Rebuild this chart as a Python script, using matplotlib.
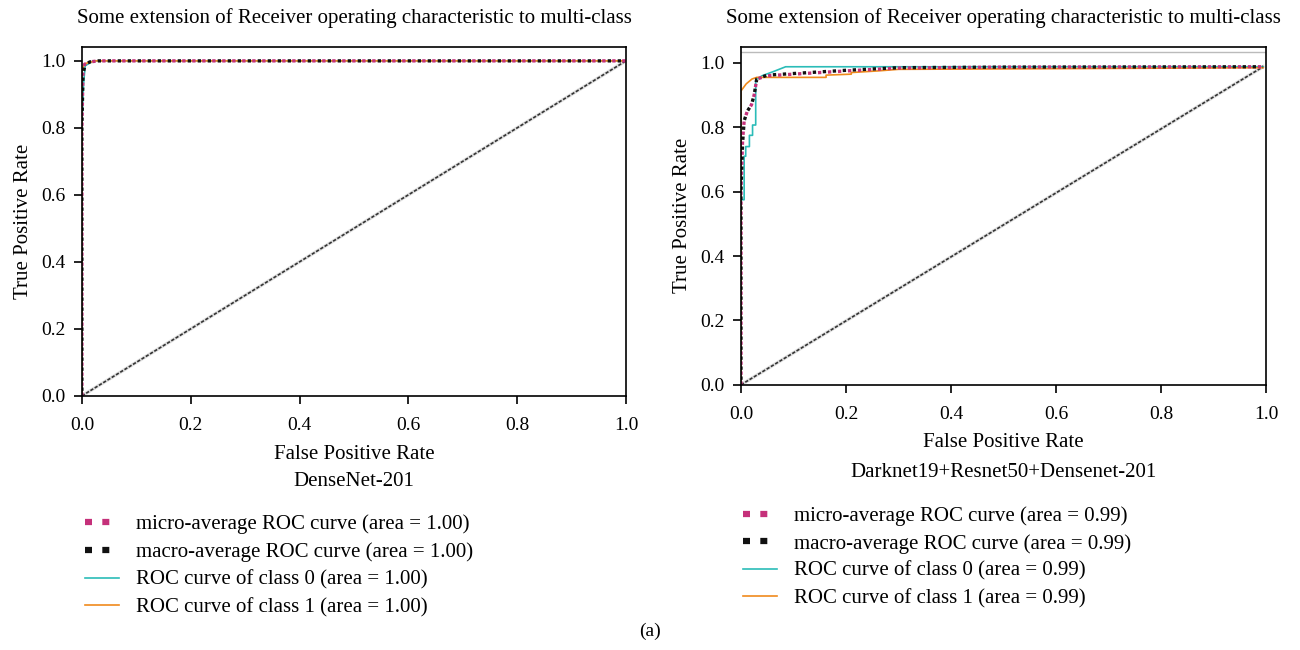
import matplotlib

matplotlib.use('Agg')
import matplotlib.pyplot as plt
from matplotlib.lines import Line2D

plt.rcParams['font.family'] = ['Liberation Serif', 'DejaVu Serif']

TITLE = "Some extension of Receiver operating characteristic to multi-class"

# DenseNet-201 (left panel)
l_micro_fpr = [0.0, 0.0, 0.002, 0.005, 0.015, 0.03, 1.0]
l_micro_tpr = [0.0, 0.80, 0.97, 0.99, 0.997, 1.0, 1.0]
l_macro_fpr = [0.0, 0.0, 0.002, 0.006, 0.015, 0.03, 1.0]
l_macro_tpr = [0.0, 0.80, 0.96, 0.99, 0.997, 1.0, 1.0]
l_c0_fpr = [0.0, 0.0, 0.003, 0.006, 0.02, 1.0]
l_c0_tpr = [0.0, 0.81, 0.93, 0.985, 1.0, 1.0]
l_c1_fpr = [0.0, 0.0, 0.004, 0.012, 0.025, 1.0]
l_c1_tpr = [0.0, 0.97, 0.99, 0.995, 1.0, 1.0]

# Darknet19+Resnet50+Densenet-201 (right panel)
r_micro_fpr = [0.0, 0.0, 0.003, 0.006, 0.012, 0.02, 0.025, 0.03, 0.05, 0.1, 0.15, 0.2, 0.3, 0.5, 0.994]
r_micro_tpr = [0.0, 0.60, 0.76, 0.82, 0.85, 0.87, 0.90, 0.95, 0.96, 0.965, 0.97, 0.975, 0.984, 0.987, 0.988]
r_macro_fpr = [0.0, 0.0, 0.003, 0.006, 0.012, 0.02, 0.025, 0.03, 0.05, 0.1, 0.15, 0.2, 0.3, 0.5, 0.994]
r_macro_tpr = [0.0, 0.60, 0.75, 0.82, 0.85, 0.87, 0.90, 0.95, 0.962, 0.967, 0.972, 0.977, 0.985, 0.987, 0.988]
r_c0_fpr = [0.0, 0.0, 0.006, 0.006, 0.009, 0.009, 0.016, 0.016, 0.022, 0.022, 0.028, 0.028, 0.04, 0.06, 0.085, 0.994]
r_c0_tpr = [0.0, 0.575, 0.575, 0.71, 0.71, 0.74, 0.74, 0.775, 0.775, 0.807, 0.807, 0.947, 0.96, 0.972, 0.988, 0.988]
r_c1_fpr = [0.0, 0.0, 0.01, 0.021, 0.03, 0.1, 0.162, 0.162, 0.21, 0.21, 0.26, 0.3, 0.994]
r_c1_tpr = [0.0, 0.913, 0.935, 0.95, 0.955, 0.955, 0.955, 0.962, 0.965, 0.97, 0.975, 0.98, 0.985]
r_diag_fpr = [0.0, 0.994]
r_diag_tpr = [0.0, 0.988]

l_areas = ["1.00", "1.00", "1.00", "1.00"]
r_areas = ["0.99", "0.99", "0.99", "0.99"]

MICRO = '#c5307a'
MACRO = '#111111'
C0 = '#2bbcb8'
C1 = '#f08a1c'
FS = 15
TFS = 14


def draw_panel(ax, curves, diag):
    (mi_x, mi_y), (ma_x, ma_y), (c0_x, c0_y), (c1_x, c1_y) = curves
    ax.plot(diag[0], diag[1], color='#cccccc', lw=2.5, alpha=0.6)
    ax.plot(diag[0], diag[1], color='#333333', lw=1.2, linestyle=(0, (2, 1)))
    ax.plot(c0_x, c0_y, color=C0, lw=1.2)
    ax.plot(c1_x, c1_y, color=C1, lw=1.2)
    ax.plot(mi_x, mi_y, color=MICRO, lw=2.4, linestyle=(0, (1, 2)))
    ax.plot(ma_x, ma_y, color=MACRO, lw=2.4, linestyle=(1.5, (1, 2)))
    ax.set_xticks([0.0, 0.2, 0.4, 0.6, 0.8, 1.0])
    ax.set_yticks([0.0, 0.2, 0.4, 0.6, 0.8, 1.0])
    ax.tick_params(labelsize=TFS, direction='out', length=6, width=1.2)
    ax.tick_params(axis='x', pad=9)
    ax.tick_params(axis='y', pad=6)
    for s in ax.spines.values():
        s.set_linewidth(1.2)
    ax.set_ylabel('True Positive Rate', fontsize=FS, labelpad=6)


def add_legend(fig, x, y, areas, spacing):
    handles = [
        Line2D([], [], color=MICRO, lw=4.5, linestyle=(0, (1.12, 1.65))),
        Line2D([], [], color=MACRO, lw=4.5, linestyle=(0, (1.12, 1.65))),
        Line2D([], [], color=C0, lw=1.2),
        Line2D([], [], color=C1, lw=1.2),
    ]
    labels = [
        f'micro-average ROC curve (area = {areas[0]})',
        f'macro-average ROC curve (area = {areas[1]})',
        f'ROC curve of class 0 (area = {areas[2]})',
        f'ROC curve of class 1 (area = {areas[3]})',
    ]
    fig.legend(handles, labels, loc='upper left', bbox_to_anchor=(x, y),
               frameon=False, fontsize=FS, handlelength=1.63, handletextpad=0.8,
               labelspacing=spacing, borderpad=0, borderaxespad=0)


fig = plt.figure(figsize=(13, 6.5), dpi=100)
ax1 = fig.add_axes([0.063, 0.391, 0.4185, 0.537])
ax2 = fig.add_axes([0.570, 0.408, 0.404, 0.520])

draw_panel(ax1, [(l_micro_fpr, l_micro_tpr), (l_macro_fpr, l_macro_tpr),
                 (l_c0_fpr, l_c0_tpr), (l_c1_fpr, l_c1_tpr)],
           ([0.0, 1.0], [0.0, 1.0]))
ax1.set_xlim(0.0, 1.0)
ax1.set_ylim(0.0, 1.042)

draw_panel(ax2, [(r_micro_fpr, r_micro_tpr), (r_macro_fpr, r_macro_tpr),
                 (r_c0_fpr, r_c0_tpr), (r_c1_fpr, r_c1_tpr)],
           (r_diag_fpr, r_diag_tpr))
ax2.set_xlim(0.0, 1.0)
ax2.set_ylim(0.0, 1.05)
ax2.axhline(1.034, color='#bbbbbb', lw=1.0)

fig.text(0.2725, 0.972, TITLE, ha='center', va='center', fontsize=FS)
fig.text(0.772, 0.972, TITLE, ha='center', va='center', fontsize=FS)

fig.text(0.2725, 0.3015, 'False Positive Rate', ha='center', va='center', fontsize=FS)
fig.text(0.2725, 0.2585, 'DenseNet-201', ha='center', va='center', fontsize=FS)
fig.text(0.772, 0.319, 'False Positive Rate', ha='center', va='center', fontsize=FS)
fig.text(0.772, 0.2738, 'Darknet19+Resnet50+Densenet-201', ha='center', va='center', fontsize=FS)

add_legend(fig, 0.0654, 0.2083, l_areas, 0.39)
add_legend(fig, 0.5715, 0.2206, r_areas, 0.365)

fig.text(0.5, 0.029, '(a)', ha='center', va='center', fontsize=TFS)

fig.savefig('out.png', dpi=100)
